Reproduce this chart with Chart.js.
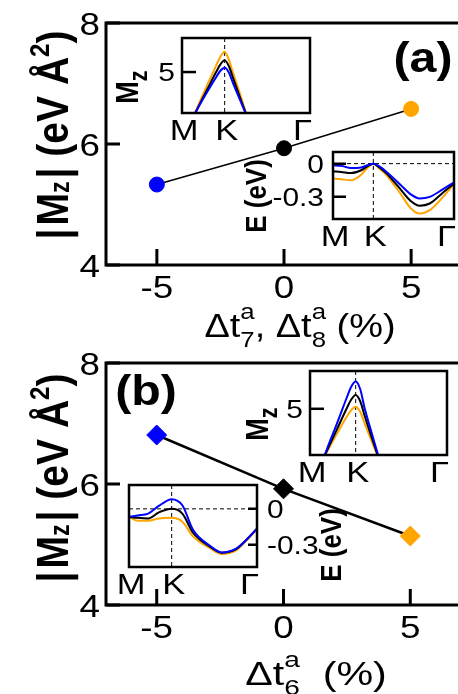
<!DOCTYPE html>
<html>
<head>
<meta charset="utf-8">
<script src="https://cdn.jsdelivr.net/npm/chart.js@4.4.1/dist/chart.umd.min.js"></script>
<style>
  html, body { margin: 0; padding: 0; background: #fff; overflow: hidden; }
  #page { position: relative; width: 458px; height: 694px; overflow: hidden; background: #fff; }
  canvas { position: absolute; }
</style>
</head>
<body>
<div id="page">
  <canvas id="mainA"></canvas>
  <canvas id="mainB"></canvas>
  <canvas id="insA1"></canvas>
  <canvas id="insA2"></canvas>
  <canvas id="insB1"></canvas>
  <canvas id="insB2"></canvas>
</div>
<script>
// hopping change (%) and |Mz| at K
const strain = [-5, 0, 5];
const mzA = [5.33, 5.93, 6.58];
const mzB = [6.81, 5.92, 5.14];
const pointColors = ['#0000ff', '#000000', '#ffa500'];
const mainXTicks = [-5, 0, 5];
const mainYTicks = [4, 6, 8];

// k-path: M = 0, K = 1, Gamma = 3
const pathTicks = [0, 1, 3];
const pathLabels = ['M', 'K', 'Γ'];

// Mz along the path, around K
const mzKx = [0.2, 0.4, 0.6, 0.8, 0.9, 1.0, 1.1, 1.2, 1.35, 1.5, 1.6];
const mzBlueA = [1.1, 2.35, 3.5, 4.6, 5.1, 5.33, 4.95, 4.1, 2.9, 1.7, 0.9];
const mzBlackA = [1.0, 2.4, 3.7, 5.0, 5.6, 5.93, 5.45, 4.5, 3.1, 1.75, 0.9];
const mzOrangeA = [1.05, 2.55, 4.05, 5.5, 6.2, 6.58, 5.95, 4.9, 3.4, 1.8, 0.9];
const mzBlueB = [0.9, 2.55, 4.1, 5.7, 6.45, 6.81, 6.3, 5.0, 3.4, 1.85, 0.9];
const mzBlackB = [1.1, 2.4, 3.7, 5.0, 5.6, 5.92, 5.5, 4.5, 3.1, 1.75, 0.9];
const mzOrangeB = [1.2, 2.3, 3.4, 4.45, 4.9, 5.14, 4.8, 4.0, 2.85, 1.7, 0.9];

// top valence band E(k), eV
const bandXa = [0, 0.2, 0.45, 0.7, 0.85, 1.0, 1.15, 1.33, 1.67, 1.92, 2.15, 2.4, 2.73, 3.0];
const eBlueA = [-0.015, -0.02, -0.04, -0.035, -0.015, 0, -0.025, -0.075, -0.19, -0.275, -0.314, -0.3, -0.23, -0.17];
const eBlackA = [-0.07, -0.075, -0.085, -0.06, -0.025, 0, -0.035, -0.09, -0.23, -0.335, -0.38, -0.36, -0.26, -0.18];
const eOrangeA = [-0.135, -0.14, -0.15, -0.10, -0.04, 0, -0.045, -0.105, -0.27, -0.4, -0.45, -0.42, -0.30, -0.185];

const bandXb = [0, 0.2, 0.45, 0.7, 1.0, 1.25, 1.5, 1.9, 2.17, 2.5, 2.75, 3.0];
const eBlueB = [-0.067, -0.055, -0.04, 0.025, 0.081, 0.03, -0.175, -0.31, -0.365, -0.335, -0.26, -0.165];
const eBlackB = [-0.067, -0.075, -0.08, -0.03, 0.0, -0.04, -0.2, -0.318, -0.367, -0.34, -0.26, -0.165];
const eOrangeB = [-0.067, -0.1, -0.1, -0.08, -0.075, -0.108, -0.23, -0.33, -0.378, -0.35, -0.265, -0.17];

const mzTicks = [5];
const eTicks = [0, -0.3];

const FONT = '"Liberation Sans", Arial, sans-serif';
const STRETCH = 1.15;

// draws a run list with sub/superscripts; rot = vertical text reading upwards
function drawText(ctx, x, y, runs, size, bold, rot, align, stretch) {
  const sx = stretch || STRETCH;
  const fontOf = s => (bold ? 'bold ' : '') + s + 'px ' + FONT;
  ctx.save();
  ctx.translate(x, y);
  if (rot) { ctx.rotate(-Math.PI / 2); ctx.scale(1, sx); }
  else ctx.scale(sx, 1);
  const parts = runs.map(r => {
    if (typeof r === 'string') r = { t: r };
    if (r.sup !== undefined) {
      ctx.font = fontOf(size * 0.68);
      return Object.assign({}, r, { w: Math.max(ctx.measureText(r.sup).width, ctx.measureText(r.sub).width) });
    }
    const s = size * (r.s || 1);
    ctx.font = fontOf(s);
    return Object.assign({}, r, { size: s, w: ctx.measureText(r.t).width + (r.gap || 0) });
  });
  const total = parts.reduce((acc, p) => acc + p.w, 0);
  let cx = align === 'left' ? 0 : align === 'right' ? -total : -total / 2;
  ctx.fillStyle = '#000';
  ctx.textAlign = 'left';
  ctx.textBaseline = 'alphabetic';
  parts.forEach(p => {
    if (p.sup !== undefined) {
      ctx.font = fontOf(size * 0.68);
      ctx.fillText(p.sup, cx, -size * 0.55);
      ctx.fillText(p.sub, cx, size * 0.3);
    } else {
      ctx.font = fontOf(p.size);
      ctx.fillText(p.t, cx, (p.dy || 0) * size);
    }
    cx += p.w;
  });
  ctx.restore();
}

// box, inward ticks, tick labels and dashed guides
function framePlugin(o) {
  return {
    id: 'frame',
    beforeDatasetsDraw(chart) {
      const { ctx, chartArea: a, scales: { x, y } } = chart;
      ctx.save();
      ctx.strokeStyle = '#000';
      ctx.lineWidth = 1;
      ctx.setLineDash([4, 3]);
      ctx.beginPath();
      (o.vGuides || []).forEach(v => {
        const p = x.getPixelForValue(v);
        ctx.moveTo(p, a.top); ctx.lineTo(p, a.bottom);
      });
      (o.hGuides || []).forEach(v => {
        const p = y.getPixelForValue(v);
        ctx.moveTo(a.left, p); ctx.lineTo(a.right, p);
      });
      ctx.stroke();
      ctx.restore();
    },
    afterDatasetsDraw(chart) {
      const { ctx, chartArea: a, scales: { x, y } } = chart;
      const right = y.position === 'right';
      ctx.save();
      ctx.strokeStyle = '#000';
      ctx.lineWidth = o.lineWidth;
      ctx.strokeRect(a.left, a.top, a.right - a.left, a.bottom - a.top);
      ctx.beginPath();
      y.ticks.forEach(t => {
        const p = y.getPixelForValue(t.value);
        const x0 = right ? a.right : a.left;
        ctx.moveTo(x0, p);
        ctx.lineTo(x0 + (right ? -o.yTickLen : o.yTickLen), p);
      });
      if (o.xTickLen) {
        x.ticks.forEach(t => {
          const p = x.getPixelForValue(t.value);
          ctx.moveTo(p, a.bottom);
          ctx.lineTo(p, a.bottom - o.xTickLen);
        });
      }
      ctx.stroke();
      ctx.restore();

      y.ticks.forEach(t => {
        const p = y.getPixelForValue(t.value);
        drawText(ctx, right ? a.right + o.yGap : a.left - o.yGap, p + o.ySize * 0.36,
          [t.label], o.ySize, false, false, right ? 'left' : 'right');
      });
      x.ticks.forEach((t, i) => {
        const p = x.getPixelForValue(t.value) + (o.xShift || 0);
        const last = o.lastRight && i === x.ticks.length - 1;
        drawText(ctx, p, a.bottom + o.xBase, [t.label], o.xSize, false, false, last ? 'right' : 'center');
      });
    }
  };
}

function textPlugin(items, offX, offY) {
  return {
    id: 'texts',
    afterDraw(chart) {
      items.forEach(it => drawText(chart.ctx, it.x - offX, it.y - offY, it.runs, it.size,
        it.bold, it.rot, it.align || 'center', it.stretch));
    }
  };
}

// cv = canvas rect on the page, box = plot frame on the page
function build(id, cv, box, cfg) {
  const [cl, ct, cw, ch] = cv;
  const canvas = document.getElementById(id);
  canvas.width = cw; canvas.height = ch;
  canvas.style.left = cl + 'px'; canvas.style.top = ct + 'px';
  canvas.style.width = cw + 'px'; canvas.style.height = ch + 'px';
  const a = { left: box[0] - cl, top: box[1] - ct, right: box[2] - cl, bottom: box[3] - ct };
  const yRight = cfg.yPos === 'right';
  return new Chart(canvas, {
    type: 'line',
    data: { datasets: cfg.datasets },
    options: {
      responsive: false,
      animation: false,
      devicePixelRatio: 1,
      layout: { padding: { top: a.top, bottom: 0, left: yRight ? a.left : 0, right: yRight ? 0 : cw - a.right } },
      plugins: { legend: { display: false }, tooltip: { enabled: false } },
      scales: {
        x: {
          type: 'linear', min: cfg.xRange[0], max: cfg.xRange[1],
          grid: { display: false }, border: { display: false },
          ticks: { display: false, callback: cfg.xFmt },
          afterBuildTicks: s => { s.ticks = cfg.xTicks.map(v => ({ value: v })); },
          afterFit: s => { s.height = ch - a.bottom; }
        },
        y: {
          type: 'linear', position: cfg.yPos || 'left', min: cfg.yRange[0], max: cfg.yRange[1],
          grid: { display: false }, border: { display: false },
          ticks: { display: false, callback: cfg.yFmt },
          afterBuildTicks: s => { s.ticks = cfg.yTicks.map(v => ({ value: v })); },
          afterFit: s => { s.width = yRight ? cw - a.right : a.left; }
        }
      }
    },
    plugins: [framePlugin(cfg.frame), textPlugin(cfg.texts || [], cl, ct)]
  });
}

function curve(xs, ys, color) {
  return {
    data: xs.map((v, i) => ({ x: v, y: ys[i] })),
    borderColor: color, borderWidth: 2, pointRadius: 0,
    cubicInterpolationMode: 'monotone', clip: 0
  };
}

function markers(ys, style, radius, width) {
  return {
    data: strain.map((v, i) => ({ x: v, y: ys[i] })),
    borderColor: '#000', borderWidth: width,
    pointStyle: style, pointRadius: radius,
    pointBackgroundColor: pointColors, pointBorderColor: pointColors, pointBorderWidth: 1,
    clip: false
  };
}

const mzTitle = [{ t: '|', gap: 3 }, { t: 'M' }, { t: 'z', s: 0.6, dy: 0.02, gap: 3 }, { t: '| (eV Å' }, { t: '2', s: 0.62, dy: -0.42 }, { t: ')' }];
const insetMz = [{ t: 'M' }, { t: 'z', s: 0.8, dy: 0.3 }];
const insetE = ['E (eV)'];
const fmtNum = v => String(v);
const fmtPath = v => pathLabels[pathTicks.indexOf(v)];
const fmtE = v => (v === 0 ? '0' : v.toFixed(1));

const mainFrame = { lineWidth: 3, yTickLen: 14, xTickLen: 16, ySize: 32, yGap: 6, xSize: 32, xBase: 33 };
const insetFrame = { lineWidth: 2.5, yTickLen: 14, xTickLen: 0, ySize: 26, yGap: 7, xSize: 30, xBase: 27, xShift: 2, lastRight: true, vGuides: [1] };

// panel (a)
build('mainA', [0, 0, 472, 347], [106, 23, 462, 265], {
  datasets: [markers(mzA, 'circle', 7.5, 1.5)],
  xRange: [-7, 7], xTicks: mainXTicks, xFmt: fmtNum,
  yRange: [4, 8], yTicks: mainYTicks, yFmt: fmtNum,
  frame: mainFrame,
  texts: [
    { x: 68, y: 135, runs: mzTitle, size: 39, bold: true, rot: true },
    { x: 300, y: 337, runs: ['Δt', { sup: 'a', sub: '7' }, ', Δt', { sup: 'a', sub: '8' }, ' (%)'], size: 33 },
    { x: 423, y: 72, runs: ['(a)'], size: 42, bold: true }
  ]
});

// panel (b)
build('mainB', [0, 347, 472, 347], [106, 363, 462, 605], {
  datasets: [markers(mzB, 'rectRot', 10, 2.5)],
  xRange: [-7, 7], xTicks: mainXTicks, xFmt: fmtNum,
  yRange: [4, 8], yTicks: mainYTicks, yFmt: fmtNum,
  frame: mainFrame,
  texts: [
    { x: 68, y: 478, runs: mzTitle, size: 39, bold: true, rot: true },
    { x: 316, y: 685, runs: ['Δt', { sup: 'a', sub: '6' }, '  (%)'], size: 33, stretch: 1.25 },
    { x: 146, y: 405, runs: ['(b)'], size: 42, bold: true }
  ]
});

// insets of (a)
build('insA1', [100, 25, 230, 130], [182, 38, 310, 113], {
  datasets: [curve(mzKx, mzBlueA, '#0000ff'), curve(mzKx, mzBlackA, '#000000'), curve(mzKx, mzOrangeA, '#ffa500')],
  xRange: [0, 3], xTicks: pathTicks, xFmt: fmtPath,
  yRange: [1.8, 7.66], yTicks: mzTicks, yFmt: fmtNum,
  frame: Object.assign({}, insetFrame),
  texts: [{ x: 138, y: 87, runs: insetMz, size: 27, bold: true, rot: true }]
});

build('insA2', [235, 140, 223, 115], [333, 152, 454, 219], {
  datasets: [curve(bandXa, eBlueA, '#0000ff'), curve(bandXa, eBlackA, '#000000'), curve(bandXa, eOrangeA, '#ffa500')],
  xRange: [0, 3], xTicks: pathTicks, xFmt: fmtPath,
  yRange: [-0.5, 0.105], yTicks: eTicks, yFmt: fmtE,
  frame: Object.assign({}, insetFrame, { yGap: 9, yTickLen: 13, hGuides: [0] }),
  texts: [{ x: 266, y: 196, runs: insetE, size: 26, bold: true, rot: true }]
});

// insets of (b)
build('insB1', [235, 360, 223, 130], [310, 371, 447, 455], {
  datasets: [curve(mzKx, mzBlueB, '#0000ff'), curve(mzKx, mzBlackB, '#000000'), curve(mzKx, mzOrangeB, '#ffa500')],
  xRange: [0, 3], xTicks: pathTicks, xFmt: fmtPath,
  yRange: [1.93, 7.51], yTicks: mzTicks, yFmt: fmtNum,
  frame: Object.assign({}, insetFrame),
  texts: [{ x: 268, y: 424, runs: insetMz, size: 27, bold: true, rot: true }]
});

build('insB2', [100, 470, 250, 135], [129, 485, 257, 567], {
  datasets: [curve(bandXb, eBlueB, '#0000ff'), curve(bandXb, eBlackB, '#000000'), curve(bandXb, eOrangeB, '#ffa500')],
  xRange: [0, 3], xTicks: pathTicks, xFmt: fmtPath,
  yRange: [-0.487, 0.2], yTicks: eTicks, yFmt: fmtE, yPos: 'right',
  frame: Object.assign({}, insetFrame, { yGap: 10, yTickLen: 9, hGuides: [0] }),
  texts: [{ x: 341, y: 545, runs: insetE, size: 26, bold: true, rot: true }]
});
</script>
</body>
</html>
